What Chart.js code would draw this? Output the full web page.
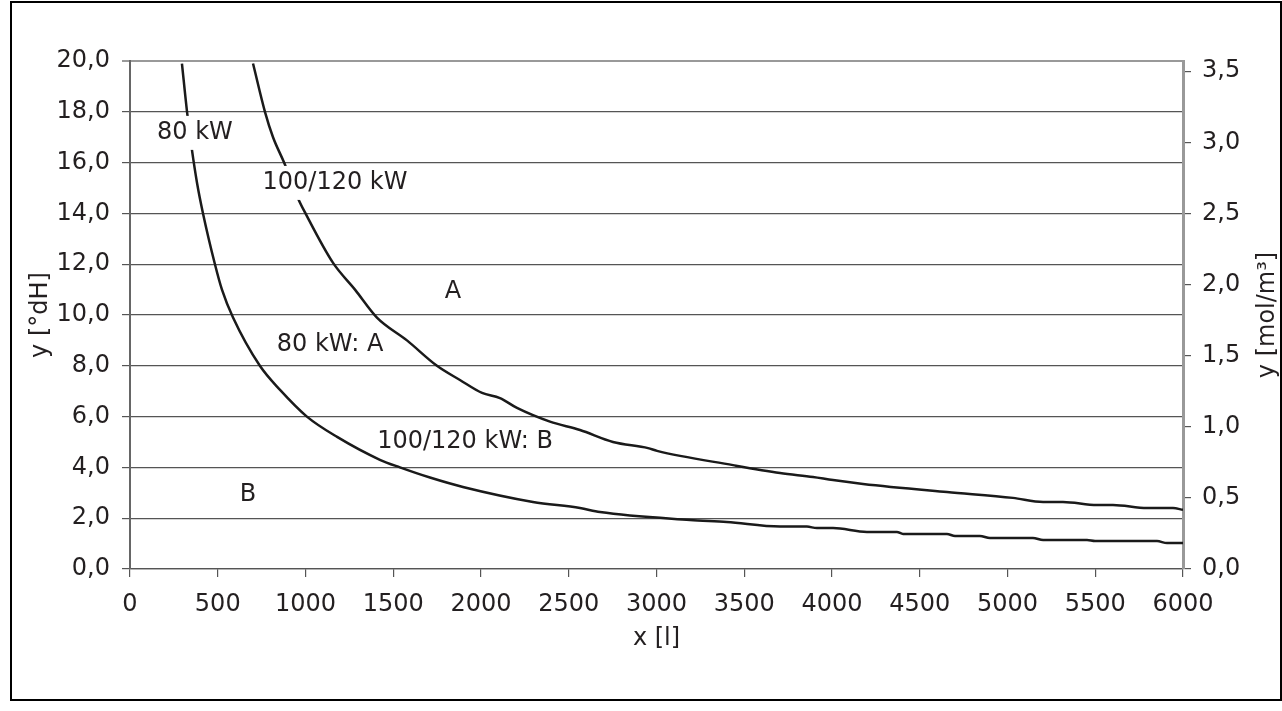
<!DOCTYPE html>
<html>
<head>
<meta charset="utf-8">
<script src="https://cdn.jsdelivr.net/npm/chart.js@4"></script>
<style>
  body { margin: 0; background: #fff; }
  #wrap { position: relative; width: 1282px; height: 711px; }
  #frame { position: absolute; left: 10px; top: 1px; width: 1268px; height: 696px; border: 2px solid #000; }
  canvas { position: absolute; left: 0; top: 0; }
</style>
</head>
<body>
<div id="wrap">
  <div id="frame"></div>
  <canvas id="myChart" width="1282" height="711"></canvas>
</div>
<script>
'use strict';

// 80 kW curve
const lowX = [296, 325, 353, 382, 416, 484, 524, 587, 740, 855, 1008, 1180, 1424, 1538, 1709, 1897, 2296, 2564, 2678, 3191, 3401, 3704, 3857, 3914, 4006, 4199, 4370, 4405, 4655, 4701, 4843, 4900, 5145, 5203, 5453, 5499, 5852, 5909, 6000];
const lowY = [19.9, 18.0, 16.5, 15.2, 14.0, 12.0, 11.0, 9.9, 8.0, 7.05, 6.0, 5.2, 4.3, 4.0, 3.6, 3.23, 2.64, 2.4, 2.24, 1.93, 1.85, 1.67, 1.67, 1.61, 1.61, 1.46, 1.46, 1.38, 1.38, 1.30, 1.30, 1.22, 1.22, 1.14, 1.14, 1.10, 1.10, 1.02, 1.02];

// 100/120 kW curve
const upX = [701, 769, 815, 878, 957, 1000, 1157, 1282, 1407, 1578, 1749, 1880, 2006, 2108, 2205, 2393, 2564, 2752, 2952, 3003, 3436, 3704, 3892, 4006, 4177, 4655, 5031, 5203, 5316, 5510, 5601, 5795, 5943, 6000];
const upY = [19.9, 18.0, 17.0, 16.0, 14.6, 14.0, 12.05, 11.0, 9.9, 9.0, 8.0, 7.44, 6.93, 6.73, 6.34, 5.8, 5.47, 5.0, 4.76, 4.65, 4.09, 3.78, 3.62, 3.5, 3.35, 3.03, 2.8, 2.64, 2.64, 2.52, 2.52, 2.4, 2.4, 2.33];

const rightTicks = [0, 0.5, 1.0, 1.5, 2.0, 2.5, 3.0, 3.5];
const dhPerMol = 5.6;

// text labels inside the plot (data coordinates); the first two sit on a curve
const noteText = ['80 kW', '100/120 kW', 'A', '80 kW: A', '100/120 kW: B', 'B'];
const noteX = [370, 1168, 1840, 1140, 1909, 672];
const noteY = [17.17, 15.2, 10.9, 8.82, 5.0, 2.91];
const noteCut = [true, true, false, false, false, false];

const rightTitle = 'y [mol/m³]';

const FONT = { family: 'DejaVu Sans', size: 24 };
const INK = '#231f20';

function toPoints(xs, ys) {
    return xs.map((x, i) => ({ x: x, y: ys[i] }));
}

function comma(v) {
    return v.toFixed(1).replace('.', ',');
}

const notesPlugin = {
    id: 'notes',
    afterDatasetsDraw(chart) {
        const ctx = chart.ctx;
        const xs = chart.scales.x;
        const ys = chart.scales.y;
        ctx.save();
        ctx.font = FONT.size + 'px "' + FONT.family + '"';
        ctx.textAlign = 'center';
        ctx.textBaseline = 'middle';
        noteText.forEach((t, i) => {
            const px = xs.getPixelForValue(noteX[i]);
            const py = ys.getPixelForValue(noteY[i]);
            if (noteCut[i]) {
                const w = ctx.measureText(t).width;
                ctx.fillStyle = '#fff';
                ctx.fillRect(px - w / 2 - 3, py - 17, w + 6, 34);
            }
            ctx.fillStyle = INK;
            ctx.fillText(t, px, py);
        });
        // right axis title reads bottom-to-top like the left one
        const r = chart.scales.y2;
        ctx.translate(1268, (r.top + r.bottom) / 2);
        ctx.rotate(-Math.PI / 2);
        ctx.fillText(rightTitle, 0, 0);
        ctx.restore();
    }
};

const canvasEl = document.getElementById('myChart');

new Chart(canvasEl, {
    type: 'line',
    data: {
        datasets: [{
            label: '80 kW',
            data: toPoints(lowX, lowY),
            borderColor: '#1a1a1a',
            borderWidth: 2.5,
            pointRadius: 0,
            cubicInterpolationMode: 'monotone'
        }, {
            label: '100/120 kW',
            data: toPoints(upX, upY),
            borderColor: '#1a1a1a',
            borderWidth: 2.5,
            pointRadius: 0,
            cubicInterpolationMode: 'monotone'
        }]
    },
    plugins: [notesPlugin],
    options: {
        responsive: false,
        devicePixelRatio: 1,
        animation: false,
        layout: { padding: { top: 61, left: 0, right: 0, bottom: 0 } },
        plugins: { legend: { display: false }, tooltip: { enabled: false } },
        scales: {
            x: {
                type: 'linear',
                min: 0,
                max: 6000,
                afterFit: s => { s.height = 142; },
                ticks: { stepSize: 500, color: INK, font: FONT, padding: 13, maxRotation: 0, autoSkip: false, callback: v => String(v) },
                grid: { drawOnChartArea: false, drawTicks: true, tickLength: 8, color: '#555', lineWidth: 1.2 },
                border: { display: true, color: '#555', width: 1.2 },
                title: { display: true, text: 'x [l]', color: INK, font: FONT, padding: { top: 0, bottom: 58 } }
            },
            y: {
                position: 'left',
                min: 0,
                max: 20,
                afterFit: s => { s.width = 130; },
                ticks: { stepSize: 2, color: INK, font: FONT, padding: 12, callback: v => comma(v) },
                grid: {
                    drawTicks: true,
                    tickLength: 8,
                    color: c => (c.tick && c.tick.value === 20) ? '#999' : '#555',
                    lineWidth: c => (c.tick && c.tick.value === 20) ? 2 : 1.2
                },
                border: { display: true, color: '#666', width: 2 },
                title: { display: true, text: 'y [°dH]', color: INK, font: FONT, padding: { top: 26, bottom: 0 } }
            },
            y2: {
                position: 'right',
                min: 0,
                max: 20 / dhPerMol,
                afterFit: s => { s.width = 99; },
                afterBuildTicks: s => { s.ticks = rightTicks.map(v => ({ value: v })); },
                ticks: { color: INK, font: FONT, padding: 11, callback: v => comma(v) },
                grid: { drawOnChartArea: false, drawTicks: true, tickLength: 8, color: '#555', lineWidth: 1.2 },
                border: { display: true, color: '#999', width: 3 }
            }
        }
    }
});
</script>
</body>
</html>
